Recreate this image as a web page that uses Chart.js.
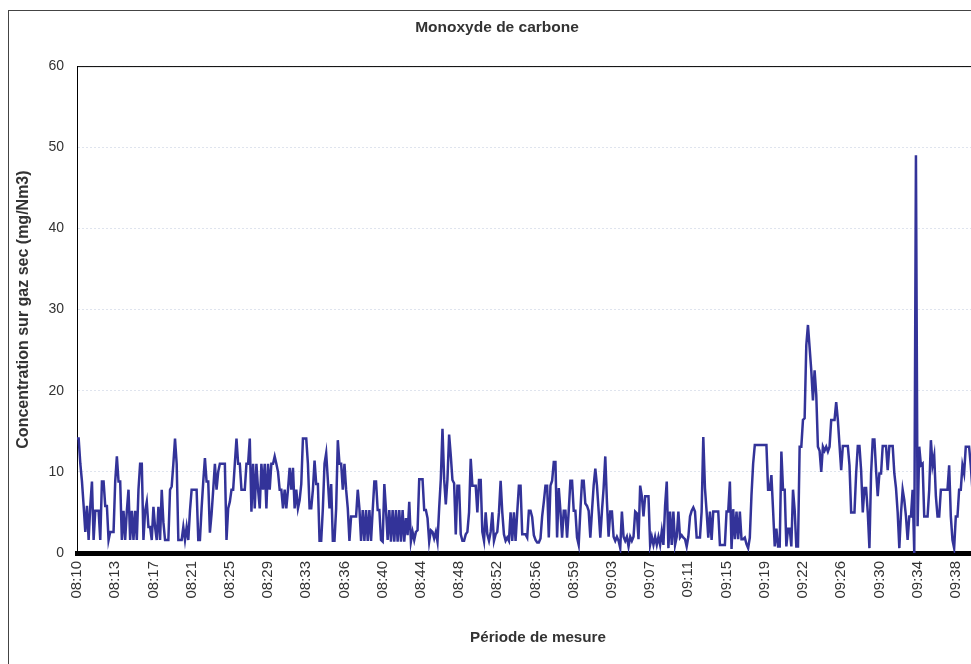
<!DOCTYPE html>
<html>
<head>
<meta charset="utf-8">
<script src="https://cdn.jsdelivr.net/npm/chart.js@4/dist/chart.umd.min.js"></script>
<style>
  html,body{margin:0;padding:0;background:#fff;overflow:hidden;}
  #frame{position:absolute;left:8px;top:10px;width:1000px;height:660px;border:1px solid #444;}
  canvas{display:block;}
</style>
</head>
<body>
<div id="frame"><canvas id="coChart" width="1000" height="660"></canvas></div>
<script>
// one reading every 10 s from 08:10, tick label every 23 readings
const tickLabels = ["08:10","08:13","08:17","08:21","08:25","08:29","08:33","08:36","08:40","08:44","08:48","08:52",
  "08:56","08:59","09:03","09:07","09:11","09:15","09:19","09:22","09:26","09:30","09:34","09:38"];
const tickEvery = 23;

// CO (mg/Nm3)
const co = [
  14.1,14.1,11,8.8,5.8,2.6,5.8,1.6,5.8,8.8,
  1.6,5.2,5.2,5.2,1.6,8.8,8.8,5.8,5.8,1.6,
  2.6,2.6,2.6,8.8,11.9,8.8,8.8,1.6,5.2,1.6,
  5.2,7.8,1.6,5.2,1.6,5.2,1.6,7.8,11,11,
  1.6,5.2,6.3,3.2,3.2,1.6,5.7,3.2,1.6,5.7,
  1.6,7.8,3.8,1.6,1.6,1.6,7.8,8.2,11,14.1,
  11,1.6,1.6,1.6,3.2,1.6,3.2,1.6,5.2,7.8,
  7.8,7.8,7.8,1.6,1.6,5.5,8.8,11.7,8.8,8.8,
  2.5,4.8,7.8,11,7.8,10,11,11,11,11,
  1.6,5.5,6.3,7.8,7.8,11,14.1,11,11,7.8,
  7.8,7.8,11,11,14.1,5.1,11,5.5,11,7.8,
  5.5,11,7.8,11,5.5,11,7.8,11,11,11.9,
  11,10,7.8,7.8,5.5,7.8,5.5,7.8,10.5,7.8,
  10.5,5.5,7.8,5.5,6.5,8.5,14.1,14.1,14.1,11,
  5.5,5.5,7.8,11.4,8.5,8.5,1.5,1.5,5.5,11,
  12.3,9,5.5,8.5,1.5,1.5,5.5,13.9,11,11,
  7.8,11,7.8,5.5,1.5,4.5,4.5,4.5,4.5,7.8,
  5.5,1.5,5.3,1.5,5.3,1.5,5.3,1.5,5.3,8.8,
  8.8,5.3,5.3,1.6,1.4,8.5,5.3,1.6,5.3,1.4,
  5.3,1.4,5.3,1.4,5.3,1.4,5.3,1.4,4.3,2.2,
  6.3,1.4,2.6,1.6,2.6,2.8,9.1,9.1,9.1,5.3,
  5.3,4.3,1.4,2.8,2.6,1.8,2.6,1.4,5.5,9.1,
  15.3,9.1,6,9.1,14.6,12,9,8.6,2.3,8.3,
  8.3,2.3,1.5,1.5,2.3,2.6,5,11.6,8.3,8.3,
  8.3,5,9,9,2.6,1.5,5,2.3,1.5,2.6,
  5,1.5,2.3,2.6,5,8.9,5,2.3,1.5,1.9,
  1.5,5,1.5,5,1.5,5,8.3,8.3,2.3,2.3,
  2.3,1.9,5.2,5.2,4.4,2.2,1.6,1.3,1.3,1.8,
  4.5,6.3,8.3,8.3,1.9,8.3,8.9,11.2,11.2,1.9,
  8,5.2,1.9,5.2,5.2,1.9,5.2,8.9,8.9,5.2,
  5.2,1.9,1,5.2,8.9,8.9,6.1,5.8,5.2,1.9,
  5.2,8.3,10.4,8.3,5.2,1.9,5.2,8,11.9,6.3,
  2,5.1,5.1,2,1.5,2,1.5,0.6,5.1,2,
  1.5,2,0.8,2,1.5,2,5.1,4.9,1.7,8.3,
  7,4.5,7,7,7,1,2,1,2,1,
  2,1,2.7,1,5.8,8.8,0.6,5.1,1,5.1,
  1,2,5.1,1.9,2.2,1.9,1.7,0.8,2,4.5,
  5.2,5.6,5.1,1.9,1.9,1.9,5.1,14.3,8,5.1,
  1.9,5.1,1.6,5.1,5.1,5.1,5.1,1,1,1,
  1,5.1,5.1,8.8,0.5,5.4,1.7,5.1,1.7,5.1,
  1.7,1.7,1.9,1.1,0.6,1.9,7.1,11,13.3,13.3,
  13.3,13.3,13.3,13.3,13.3,13.3,7.8,7.8,9.6,5.3,
  0.8,3,0.8,0.8,12.5,7.8,7.8,0.8,3,3,
  0.8,7.8,5.3,0.8,0.8,13.1,13.1,16.4,16.6,25.6,
  28.1,25.3,22.5,18.8,22.5,19.5,13.1,12.6,10,13.1,
  12.6,13.1,12.5,13.1,16.4,16.4,16.4,18.6,16.4,13.3,
  10.2,13.2,13.2,13.2,13.2,10.8,5,5,5,9.8,
  13.2,13.2,10.2,5,8,8,5,0.6,9.8,14,
  14,10.2,7,9.8,9.8,13.2,13.2,13.2,10.2,13.2,
  13.2,13.2,9.8,8,5,0.6,4.9,7.8,6.5,4.5,
  1.6,4.5,4.5,7.8,0,49,3.3,13.1,10.8,11,
  4.5,4.5,4.5,7.8,13.9,10.8,12,7,4.5,4.5,
  7.8,7.8,7.8,7.8,7.8,10.8,4.5,1.6,0.6,4.5,
  4.5,7.8,7.8,10.8,9.8,13.1,13.1,13.1,10.8,7.8,
  7.8
];
const lastIndex = 555;

Chart.defaults.font.family = "'Liberation Sans', Arial, sans-serif";
Chart.defaults.font.size = 12;
Chart.defaults.color = "#333";

const plotFrame = {
  id: "plotFrame",
  afterDatasetsDraw(chart){
    const {ctx, chartArea:a} = chart;
    ctx.save();
    ctx.strokeStyle = "#000";
    ctx.lineWidth = 1;
    ctx.beginPath();
    ctx.moveTo(a.left, a.top + 0.5);
    ctx.lineTo(a.right, a.top + 0.5);
    ctx.stroke();
    ctx.restore();
  }
};

new Chart(document.getElementById("coChart"), {
  type: "line",
  data: {
    datasets: [{
      data: co.map((v,i)=>({x:i, y:v})),
      borderColor: "#333399",
      borderWidth: 2.5,
      pointRadius: 0,
      tension: 0,
      fill: false
    }]
  },
  options: {
    responsive: false,
    animation: false,
    // plot runs past the window on the right, like the cropped original
    layout: {padding: {left: -14, right: 10, top: 0, bottom: 0}},
    plugins: {
      legend: {display: false},
      tooltip: {enabled: false},
      title: {
        display: true,
        text: "Monoxyde de carbone",
        color: "#333",
        font: {size: 15.5, weight: "bold"},
        padding: {top: 7, bottom: 29.5}
      }
    },
    scales: {
      x: {
        type: "linear",
        min: 0,
        max: lastIndex,
        afterFit(s){ s.height = 118; },
        afterBuildTicks(s){
          s.ticks = s.ticks.filter(t => t.value % tickEvery === 0 && t.value / tickEvery < tickLabels.length);
        },
        grid: {display: false, drawTicks: true, tickLength: 5},
        border: {color: "#000", width: 5},
        ticks: {
          stepSize: tickEvery,
          autoSkip: false,
          minRotation: 90,
          maxRotation: 90,
          padding: 3,
          color: "#333",
          font: {size: 15},
          callback: v => tickLabels[v / tickEvery] ?? ""
        },
        title: {
          display: true,
          text: "Période de mesure",
          color: "#333",
          font: {size: 15.2, weight: "bold"},
          padding: {top: 0, bottom: 24}
        }
      },
      y: {
        min: 0,
        max: 60,
        afterFit(s){ s.width = 82; },
        grid: {color: "#dfe4ee", drawTicks: false},
        border: {color: "#000", width: 1, dash: [2, 2]},
        ticks: {stepSize: 10, padding: 13, color: "#333", font: {size: 14}},
        title: {
          display: true,
          text: "Concentration sur gaz sec (mg/Nm3)",
          color: "#333",
          font: {size: 16, weight: "bold"},
          padding: {top: 19.4, bottom: 0}
        }
      }
    }
  },
  plugins: [plotFrame]
});
</script>
</body>
</html>
